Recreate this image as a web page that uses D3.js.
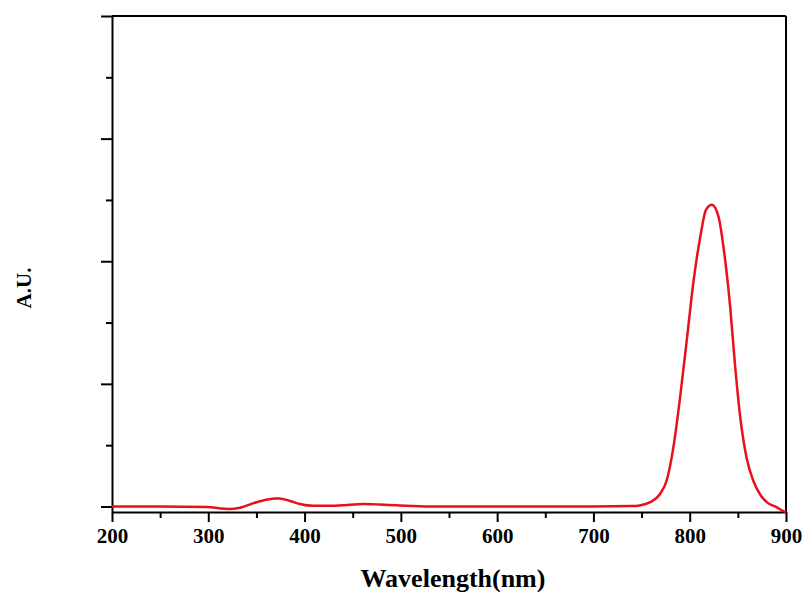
<!DOCTYPE html>
<html>
<head>
<meta charset="utf-8">
<script src="https://cdn.jsdelivr.net/npm/d3@7"></script>
<style>
  body { margin: 0; background: #fff; }
  svg { display: block; }
  .axis text { font-family: "Liberation Serif", "Times New Roman", serif; font-weight: bold; font-size: 21px; fill: #000; }
  .axis path, .axis line { stroke: #000; stroke-width: 2; }
</style>
</head>
<body>
<svg id="chart" width="804" height="592"></svg>
<script>
// wavelength (nm) and absorbance (A.U.)
var wavelength = [200, 250, 298, 322, 333, 350, 360, 369, 374, 385, 395, 409, 426, 445, 461, 478, 495, 530, 600, 700, 740,
  748, 759, 769, 776, 783, 790, 797, 804, 811, 817, 823, 830, 836, 842, 847, 852, 859, 866, 873, 880, 890, 898, 900];
var absorb = [0, 0, -0.005, -0.02, -0.01, 0.035, 0.055, 0.065, 0.066, 0.045, 0.02, 0.005, 0.005, 0.012, 0.02, 0.016, 0.01, 0.0, 0.0, 0.0, 0.003,
  0.008, 0.035, 0.10, 0.21, 0.48, 0.89, 1.36, 1.84, 2.20, 2.42, 2.46, 2.36, 2.06, 1.63, 1.16, 0.76, 0.40, 0.21, 0.10, 0.035, -0.005, -0.04, -0.045];

var xMajor = [200, 300, 400, 500, 600, 700, 800, 900];
var yMajor = [0, 1, 2, 3, 4];

var svg = d3.select("#chart");
var mLeft = 112, mRight = 786, mTop = 16, mBottom = 512;

var x = d3.scaleLinear().domain([200, 900]).range([mLeft, mRight]);
var y = d3.scaleLinear().domain([-0.045, 4]).range([mBottom, mTop]);

// minor ticks
var xMinor = d3.range(250, 900, 100);
var yMinor = d3.range(0.5, 4, 1);

svg.append("g").attr("class", "axis")
  .attr("transform", "translate(0," + mBottom + ")")
  .call(d3.axisBottom(x).tickValues(xMinor).tickSize(6).tickFormat(""))
  .call(g => g.select(".domain").remove());
svg.append("g").attr("class", "axis")
  .attr("transform", "translate(0," + mBottom + ")")
  .call(d3.axisBottom(x).tickValues(xMajor).tickSize(10).tickSizeOuter(0).tickPadding(6).tickFormat(d3.format("d")));

svg.append("g").attr("class", "axis")
  .attr("transform", "translate(" + mLeft + ",0)")
  .call(d3.axisLeft(y).tickValues(yMinor).tickSize(6).tickFormat(""))
  .call(g => g.select(".domain").remove());
svg.append("g").attr("class", "axis")
  .attr("transform", "translate(" + mLeft + ",0)")
  .call(d3.axisLeft(y).tickValues(yMajor).tickSize(11).tickSizeOuter(0).tickFormat(""));

// top and right frame
svg.append("line").attr("x1", mLeft).attr("x2", mRight).attr("y1", mTop).attr("y2", mTop)
  .attr("stroke", "#000").attr("stroke-width", 2);
svg.append("line").attr("x1", mRight).attr("x2", mRight).attr("y1", mTop).attr("y2", mBottom)
  .attr("stroke", "#000").attr("stroke-width", 2);

var data = wavelength.map((w, i) => [w, absorb[i]]);
var line = d3.line()
  .curve(d3.curveMonotoneX)
  .x(d => x(d[0]))
  .y(d => y(d[1]));

svg.append("path")
  .datum(data)
  .attr("fill", "none")
  .attr("stroke", "#e8101a")
  .attr("stroke-width", 2.5)
  .attr("d", line);

svg.append("text")
  .attr("x", 453).attr("y", 587)
  .attr("text-anchor", "middle")
  .style("font-family", "Liberation Serif, serif").style("font-weight", "bold").style("font-size", "26px")
  .text("Wavelength(nm)");

svg.append("text")
  .attr("transform", "translate(31,288) rotate(-90)")
  .attr("text-anchor", "middle")
  .style("font-family", "Liberation Serif, serif").style("font-weight", "bold").style("font-size", "21px")
  .text("A.U.");
</script>
</body>
</html>
